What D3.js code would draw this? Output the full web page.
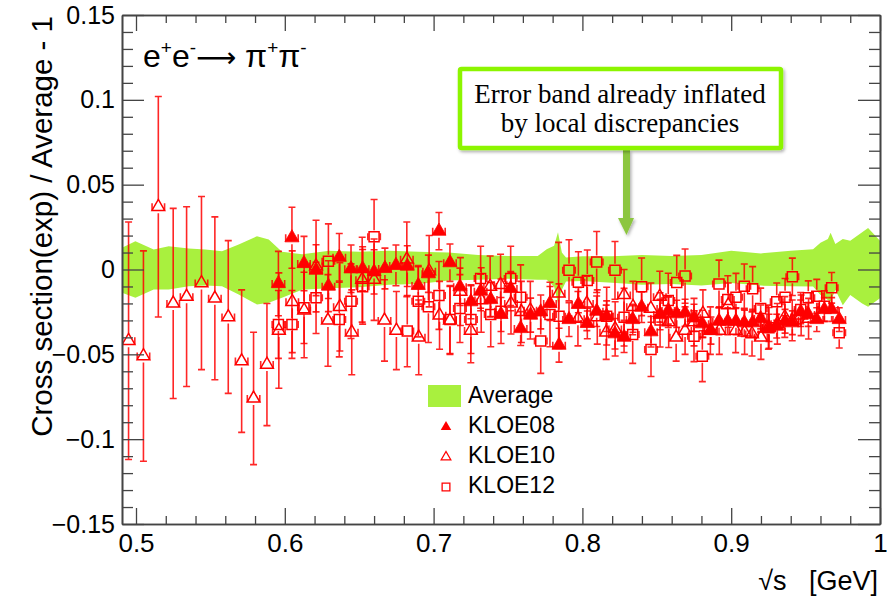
<!DOCTYPE html>
<html>
<head>
<meta charset="utf-8">
<script src="https://cdn.jsdelivr.net/npm/d3@7"></script>
<style>
  html, body { margin: 0; padding: 0; background: #fff; }
  svg { display: block; }
</style>
</head>
<body>
<svg id="chart" width="887" height="600" font-family="'Liberation Sans', Arial, Helvetica, sans-serif"></svg>
<script>
// ---------------- DATA ----------------
// Average error band: [sqrt(s), upper, lower]
const BAND = [
  [0.4906, 0.0128, -0.0137], [0.4996, 0.0167, -0.0167], [0.5119, 0.0118, -0.0118],
  [0.5220, 0.0137, -0.0118], [0.5354, 0.0124, -0.0098], [0.5466, 0.0118, -0.0094],
  [0.5578, 0.0108, -0.0098], [0.5690, 0.0147, -0.0147], [0.5813, 0.0196, -0.0206],
  [0.5892, 0.0177, -0.0196], [0.5981, 0.0105, -0.0167], [0.6116, 0.0090, -0.0120],
  [0.6300, 0.0110, -0.0110], [0.6500, 0.0105, -0.0105], [0.6700, 0.0110, -0.0090],
  [0.6900, 0.0105, -0.0085], [0.7100, 0.0100, -0.0065], [0.7300, 0.0085, -0.0060],
  [0.7500, 0.0080, -0.0055], [0.7700, 0.0080, -0.0060], [0.7760, 0.0120, -0.0060],
  [0.7810, 0.0140, -0.0100], [0.7836, 0.0220, -0.0200], [0.7862, 0.0100, -0.0120],
  [0.7890, 0.0070, -0.0070], [0.8000, 0.0078, -0.0068], [0.8200, 0.0078, -0.0078],
  [0.8400, 0.0085, -0.0090], [0.8600, 0.0080, -0.0085], [0.8800, 0.0085, -0.0095],
  [0.9000, 0.0110, -0.0080], [0.9200, 0.0095, -0.0095], [0.9400, 0.0110, -0.0098],
  [0.9550, 0.0120, -0.0100], [0.9600, 0.0157, -0.0150], [0.9650, 0.0180, -0.0180],
  [0.9668, 0.0216, -0.0190], [0.9700, 0.0150, -0.0120], [0.9750, 0.0180, -0.0210],
  [0.9800, 0.0170, -0.0150], [0.9880, 0.0220, -0.0200], [0.9920, 0.0245, -0.0220],
  [1.0000, 0.0170, -0.0170]
];

// KLOE08: [sqrt(s), value, error]
const KLOE08 = [
  [0.5957,-0.0083,0.019],[0.6048,0.0187,0.018],[0.6129,0.0035,0.016],[0.6210,-0.0004,0.015],
  [0.6293,-0.0098,0.015],[0.6366,0.0072,0.014],[0.6445,0.0004,0.014],[0.6523,0.0004,0.013],
  [0.6600,-0.0014,0.013],[0.6673,0.0006,0.012],[0.6747,0.0024,0.012],[0.6823,0.0020,0.012],
  [0.6897,-0.0094,0.011],[0.6965,-0.0025,0.011],[0.7036,0.0226,0.011],[0.7110,0.0040,0.011],
  [0.7177,-0.0102,0.011],[0.7251,-0.0190,0.010],[0.7316,-0.0128,0.010],[0.7384,-0.0177,0.010],
  [0.7453,-0.0265,0.010],[0.7518,-0.0112,0.010],[0.7585,-0.0348,0.010],[0.7652,-0.0269,0.010],
  [0.7720,-0.0250,0.010],[0.7782,-0.0200,0.010],[0.7843,-0.0446,0.010],[0.7910,-0.0295,0.010],
  [0.7973,-0.0206,0.010],[0.8033,-0.0318,0.009],[0.8096,-0.0246,0.009],[0.8163,-0.0275,0.009],
  [0.8219,-0.0379,0.009],[0.8280,-0.0399,0.009],[0.8338,-0.0295,0.009],[0.8398,-0.0222,0.009],
  [0.8461,-0.0367,0.009],[0.8522,-0.0265,0.009],[0.8577,-0.0242,0.008],[0.8634,-0.0261,0.008],
  [0.8690,-0.0255,0.008],[0.8750,-0.0285,0.008],[0.8806,-0.0320,0.008],[0.8864,-0.0360,0.008],
  [0.8918,-0.0305,0.008],[0.8977,-0.0305,0.008],[0.9032,-0.0305,0.008],[0.9088,-0.0314,0.008],
  [0.9144,-0.0314,0.008],[0.9198,-0.0289,0.008],[0.9254,-0.0344,0.008],[0.9306,-0.0334,0.007],
  [0.9362,-0.0305,0.007],[0.9411,-0.0314,0.007],[0.9467,-0.0250,0.007],[0.9518,-0.0265,0.007],
  [0.9575,-0.0295,0.007],[0.9626,-0.0236,0.007],[0.9675,-0.0236,0.007],[0.9726,-0.0295,0.007]
];

// KLOE10: [sqrt(s), value, error]
const KLOE10 = [
  [0.495,-0.042,0.070],[0.505,-0.051,0.062],[0.515,0.037,0.065],[0.525,-0.020,0.056],
  [0.534,-0.016,0.053],[0.544,-0.008,0.051],[0.553,-0.017,0.048],[0.562,-0.028,0.045],
  [0.571,-0.054,0.042],[0.579,-0.076,0.039],[0.588,-0.056,0.036],[0.596,-0.036,0.034],
  [0.605,-0.019,0.030],[0.613,-0.024,0.028],[0.621,0.002,0.027],[0.629,-0.030,0.027],
  [0.637,-0.022,0.026],[0.645,-0.037,0.025],[0.652,-0.006,0.025],[0.660,-0.006,0.024],
  [0.667,-0.030,0.024],[0.675,-0.036,0.023],[0.682,0.006,0.022],[0.690,-0.040,0.022],
  [0.697,-0.001,0.021],[0.704,-0.027,0.020],[0.711,-0.030,0.020],[0.718,-0.013,0.020],
  [0.725,-0.036,0.019],[0.732,-0.018,0.019],[0.738,-0.010,0.018],[0.745,-0.009,0.018],
  [0.752,-0.020,0.018],[0.759,-0.025,0.018],[0.765,-0.024,0.017],[0.784,-0.014,0.030],
  [0.797,-0.029,0.016],[0.803,-0.020,0.016],[0.810,-0.028,0.016],[0.816,-0.037,0.016],
  [0.822,-0.035,0.016],[0.828,-0.015,0.015],[0.834,-0.022,0.015],[0.846,-0.023,0.015],
  [0.852,-0.016,0.015],[0.858,-0.031,0.015],[0.863,-0.040,0.014],[0.869,-0.036,0.014],
  [0.875,-0.031,0.014],[0.881,-0.026,0.014],[0.886,-0.036,0.014],[0.892,-0.036,0.014],
  [0.898,-0.021,0.013],[0.903,-0.036,0.013],[0.909,-0.037,0.013],[0.914,-0.038,0.013],
  [0.920,-0.040,0.013],[0.925,-0.034,0.013],[0.931,-0.032,0.012],[0.936,-0.028,0.012],
  [0.941,-0.030,0.012],[0.947,-0.027,0.012],[0.952,-0.029,0.012]
];

// KLOE12: [sqrt(s), value, error]
const KLOE12 = [
  [0.5957,-0.0324,0.020],[0.6048,-0.0324,0.020],[0.6129,-0.0226,0.021],[0.6210,-0.0167,0.021],
  [0.6293,0.0049,0.022],[0.6366,-0.0295,0.022],[0.6445,-0.0187,0.022],[0.6523,-0.0102,0.022],
  [0.6600,0.0193,0.022],[0.6823,-0.0363,0.021],[0.6897,-0.0187,0.021],[0.6965,-0.0220,0.021],
  [0.7036,-0.0153,0.020],[0.7110,-0.0295,0.020],[0.7177,-0.0230,0.020],[0.7251,-0.0295,0.020],
  [0.7316,-0.0053,0.019],[0.7384,-0.0265,0.019],[0.7453,-0.0246,0.019],[0.7518,-0.0053,0.019],
  [0.7585,-0.0163,0.019],[0.7720,-0.0422,0.019],[0.7782,-0.0265,0.019],[0.7843,-0.0275,0.019],
  [0.7910,-0.0005,0.018],[0.7973,-0.0075,0.018],[0.8033,-0.0065,0.018],[0.8096,0.0044,0.018],
  [0.8163,-0.0275,0.017],[0.8219,-0.0005,0.017],[0.8280,-0.0281,0.017],[0.8338,-0.0383,0.017],
  [0.8398,-0.0102,0.017],[0.8461,-0.0471,0.016],[0.8522,-0.0297,0.016],[0.8577,-0.0182,0.016],
  [0.8634,-0.0077,0.016],[0.8690,-0.0039,0.016],[0.8750,-0.0393,0.015],[0.8806,-0.0511,0.015],
  [0.8918,-0.0085,0.014],[0.8977,-0.0177,0.014],[0.9032,-0.0163,0.014],[0.9088,-0.0098,0.013],
  [0.9144,-0.0113,0.013],[0.9198,-0.0230,0.012],[0.9254,-0.0344,0.012],[0.9306,-0.0190,0.011],
  [0.9362,-0.0163,0.011],[0.9411,-0.0043,0.011],[0.9467,-0.0236,0.010],[0.9518,-0.0167,0.010],
  [0.9575,-0.0158,0.010],[0.9626,-0.0216,0.009],[0.9675,-0.0108,0.009],[0.9726,-0.0373,0.009]
];

const X_MAJOR = [0.5, 0.6, 0.7, 0.8, 0.9, 1.0];
const X_LABELS = ["0.5", "0.6", "0.7", "0.8", "0.9", "1"];
const Y_MAJOR = [-0.15, -0.1, -0.05, 0, 0.05, 0.1, 0.15];
const Y_LABELS = ["\u22120.15", "\u22120.1", "\u22120.05", "0", "0.05", "0.1", "0.15"];
const LEGEND = ["Average", "KLOE08", "KLOE10", "KLOE12"];
const NOTE = ["Error band already inflated", "by local discrepancies"];
const XERR = 0.0042;

// ---------------- SCALES ----------------
const svg = d3.select("#chart");
const X0 = 122, X1 = 880, Y0 = 524, Y1 = 15;
const x = d3.scaleLinear().domain([0.49059, 1.0]).range([X0, X1]);
const y = d3.scaleLinear().domain([-0.15, 0.15]).range([Y0, Y1]);

const RED = "#ff0000";
const BANDCOL = "#a9f03e";
const SANS = "'Liberation Sans', Arial, Helvetica, sans-serif";
const SERIF = "'Liberation Serif', 'Times New Roman', Times, serif";

const defs = svg.append("defs");
defs.append("clipPath").attr("id", "clip")
  .append("rect").attr("x", X0).attr("y", Y1).attr("width", X1 - X0).attr("height", Y0 - Y1);

// band
svg.append("path")
  .datum(BAND)
  .attr("clip-path", "url(#clip)")
  .attr("fill", BANDCOL)
  .attr("d", d3.area().x(d => x(d[0])).y0(d => y(d[2])).y1(d => y(d[1])));

// ---------------- POINTS ----------------
const gPts = svg.append("g").attr("clip-path", "url(#clip)");
const MH = 6.5; // half-size of marker gap

function drawSeries(data, type) {
  const g = gPts.append("g");
  const eb = g.append("g").attr("stroke", RED).attr("stroke-opacity", 0.85).attr("stroke-width", 1.6).attr("fill", "none");
  data.forEach(d => {
    const cx = x(d[0]), cy = y(d[1]);
    const yt = y(d[1] + d[2]), yb = y(d[1] - d[2]);
    const xl = x(d[0] - XERR), xr = x(d[0] + XERR);
    let p = "";
    if (cy - yt > MH) p += `M${cx},${yt}V${cy - MH}M${cx},${cy + MH}V${yb}`;
    p += `M${cx - 3.5},${yt}H${cx + 3.5}M${cx - 3.5},${yb}H${cx + 3.5}`;
    p += `M${xl},${cy}H${cx - MH}M${cx + MH},${cy}H${xr}`;
    p += `M${xl},${cy - 3.5}V${cy + 3.5}M${xr},${cy - 3.5}V${cy + 3.5}`;
    eb.append("path").attr("d", p);
  });
  g.selectAll("path.m").data(data).join("path")
    .attr("class", "m")
    .attr("transform", d => `translate(${x(d[0])},${y(d[1])})`)
    .attr("d", type === "sq" ? d3.symbol(d3.symbolSquare, 100)() : d3.symbol(d3.symbolTriangle, type === "ft" ? 86 : 70)())
    .attr("fill", type === "ft" ? RED : "none")
    .attr("stroke", RED)
    .attr("stroke-width", type === "ft" ? 0.8 : 1.5);
}
drawSeries(KLOE10, "ot");
drawSeries(KLOE12, "sq");
drawSeries(KLOE08, "ft");

// ---------------- AXES ----------------
const AXC = "#444";
function minors(lo, hi, step) {
  const a = [];
  for (let v = lo; v <= hi + 1e-9; v += step) a.push(+v.toFixed(4));
  return a;
}
const xMinor = minors(0.5, 1.0, 0.02).filter(v => X_MAJOR.every(m => Math.abs(m - v) > 1e-6));
const yMinor = minors(-0.15, 0.15, 0.01).filter(v => Y_MAJOR.every(m => Math.abs(m - v) > 1e-6));

function styleAxis(g, fs) {
  g.attr("font-family", SANS);
  g.select(".domain").attr("stroke", AXC).attr("stroke-width", 1.6);
  g.selectAll(".tick line").attr("stroke", AXC).attr("stroke-width", 1.3);
  g.selectAll(".tick text").attr("fill", "#000").attr("font-size", fs);
}

// bottom
const gb = svg.append("g").attr("transform", `translate(0,${Y0})`)
  .call(d3.axisBottom(x).tickValues(X_MAJOR).tickSize(-16).tickSizeOuter(0).tickPadding(10)
    .tickFormat((d, i) => X_LABELS[i]));
styleAxis(gb, 26);
const gbm = svg.append("g").attr("transform", `translate(0,${Y0})`)
  .call(d3.axisBottom(x).tickValues(xMinor).tickSize(-8).tickSizeOuter(0).tickFormat(""));
styleAxis(gbm, 0);
// top
const gt = svg.append("g").attr("transform", `translate(0,${Y1})`)
  .call(d3.axisTop(x).tickValues(X_MAJOR).tickSize(-16).tickSizeOuter(0).tickFormat(""));
styleAxis(gt, 0);
const gtm = svg.append("g").attr("transform", `translate(0,${Y1})`)
  .call(d3.axisTop(x).tickValues(xMinor).tickSize(-8).tickSizeOuter(0).tickFormat(""));
styleAxis(gtm, 0);
// left
const gl = svg.append("g").attr("transform", `translate(${X0},0)`)
  .call(d3.axisLeft(y).tickValues(Y_MAJOR).tickSize(-22).tickSizeOuter(0).tickPadding(7)
    .tickFormat((d, i) => Y_LABELS[i]));
styleAxis(gl, 25);
const glm = svg.append("g").attr("transform", `translate(${X0},0)`)
  .call(d3.axisLeft(y).tickValues(yMinor).tickSize(-11).tickSizeOuter(0).tickFormat(""));
styleAxis(glm, 0);
// right
const gr = svg.append("g").attr("transform", `translate(${X1},0)`)
  .call(d3.axisRight(y).tickValues(Y_MAJOR).tickSize(-22).tickSizeOuter(0).tickFormat(""));
styleAxis(gr, 0);
const grm = svg.append("g").attr("transform", `translate(${X1},0)`)
  .call(d3.axisRight(y).tickValues(yMinor).tickSize(-11).tickSizeOuter(0).tickFormat(""));
styleAxis(grm, 0);

// axis titles
svg.append("text")
  .attr("transform", `translate(52,${Y1 + 1}) rotate(-90)`)
  .attr("text-anchor", "end")
  .attr("font-size", 29.5)
  .text("Cross section(exp) / Average - 1");

svg.append("text")
  .attr("x", 878).attr("y", 590)
  .attr("text-anchor", "end")
  .attr("font-size", 27)
  .style("white-space", "pre")
  .text("\u221As   [GeV]");

// process label
const tt = svg.append("text").attr("x", 143).attr("y", 67).attr("font-size", 32);
tt.append("tspan").text("e");
tt.append("tspan").attr("font-size", 19).attr("dy", -13).text("+");
tt.append("tspan").attr("dy", 13).text("e");
tt.append("tspan").attr("font-size", 19).attr("dy", -13).text("-");
tt.append("tspan").attr("dy", 13).attr("font-family", "'DejaVu Sans', sans-serif").attr("font-size", 28).text("\u27F6");
tt.append("tspan").text(" \u03C0");
tt.append("tspan").attr("font-size", 19).attr("dy", -13).text("+");
tt.append("tspan").attr("dy", 13).text("\u03C0");
tt.append("tspan").attr("font-size", 19).attr("dy", -13).text("-");

// ---------------- LEGEND ----------------
const lg = svg.append("g");
lg.append("rect").attr("x", 428).attr("y", 385).attr("width", 33).attr("height", 22).attr("fill", BANDCOL);
const legY = [403, 433, 463, 493];
LEGEND.forEach((t, i) => {
  lg.append("text").attr("x", 468).attr("y", legY[i]).attr("font-size", 23).text(t);
});
lg.append("path").attr("transform", "translate(446,427)").attr("d", d3.symbol(d3.symbolTriangle, 48)()).attr("fill", RED);
lg.append("path").attr("transform", "translate(446,457)").attr("d", d3.symbol(d3.symbolTriangle, 40)())
  .attr("fill", "none").attr("stroke", RED).attr("stroke-width", 1.3);
lg.append("path").attr("transform", "translate(446,487)").attr("d", d3.symbol(d3.symbolSquare, 60)())
  .attr("fill", "none").attr("stroke", RED).attr("stroke-width", 1.3);

// ---------------- ANNOTATION ----------------
const f = defs.append("filter").attr("id", "shadow").attr("x", "-10%").attr("y", "-10%").attr("width", "130%").attr("height", "140%");
f.append("feDropShadow").attr("dx", 1.5).attr("dy", 2).attr("stdDeviation", 1.5).attr("flood-color", "#000").attr("flood-opacity", 0.3);

const ARROWC = "#8cc63f";
const ag = svg.append("g").attr("filter", "url(#shadow)");
ag.append("rect").attr("x", 623).attr("y", 150).attr("width", 7).attr("height", 70).attr("fill", ARROWC);
ag.append("path").attr("d", "M618,218 L634,218 L626.5,235 Z").attr("fill", ARROWC);

svg.append("rect").attr("x", 460).attr("y", 69).attr("width", 321).attr("height", 79)
  .attr("fill", "#fff").attr("stroke", "#8cf500").attr("stroke-width", 4.5).attr("rx", 1.5)
  .attr("filter", "url(#shadow)");
NOTE.forEach((t, i) => {
  svg.append("text").attr("x", 620).attr("y", 103 + i * 28.5)
    .attr("text-anchor", "middle").attr("font-size", 27)
    .attr("font-family", SERIF)
    .text(t);
});
</script>
</body>
</html>
